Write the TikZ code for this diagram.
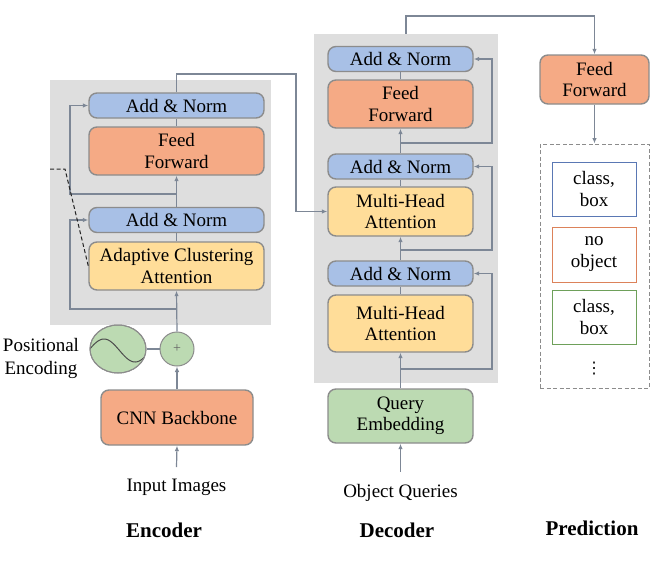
\documentclass[tikz,border=0pt]{standalone}
\usepackage{fontspec}
\setmainfont{Liberation Serif}
\newfontfamily\symfont{DejaVu Sans}
\usepackage{tikz}
\usetikzlibrary{arrows.meta,shapes.geometric}

\definecolor{bggray}{RGB}{222,222,222}
\definecolor{edgegray}{RGB}{140,140,140}
\definecolor{linegray}{RGB}{125,135,150}
\definecolor{normblue}{RGB}{168,192,230}
\definecolor{ffsalmon}{RGB}{245,170,133}
\definecolor{attyellow}{RGB}{255,221,153}
\definecolor{embgreen}{RGB}{188,218,178}
\definecolor{outblue}{RGB}{90,120,180}
\definecolor{outorange}{RGB}{220,130,90}
\definecolor{outgreen}{RGB}{110,160,90}

\newcommand{\boxfont}{\fontsize{19}{21.5}\selectfont}

\tikzset{
  blk/.style={draw=edgegray, line width=1.4pt, rounded corners=8pt, inner sep=0pt,
    align=center, font=\boxfont},
  norm/.style={blk, fill=normblue, minimum height=25pt},
  ffn/.style={blk, fill=ffsalmon, minimum height=48pt},
  att/.style={blk, fill=attyellow},
  emb/.style={blk, fill=embgreen},
  outbox/.style={draw=#1, line width=1pt, minimum width=84pt, minimum height=54pt,
    inner sep=0pt, align=center, font=\fontsize{19}{22}\selectfont},
  lbl/.style={font=\boxfont, inner sep=12pt, align=center},
  title/.style={font=\fontsize{21}{24}\selectfont\bfseries},
  ln/.style={draw=linegray, line width=1.2pt},
  arr/.style={ln, -{Latex[length=5.5pt,width=4.5pt]}},
}

\begin{document}
\begin{tikzpicture}[x=1pt,y=-1pt]
	\useasboundingbox (0,0) rectangle (667,568);

	% Gray backgrounds
	\node[fill=bggray, minimum width=221pt, minimum height=245pt, inner sep=0pt] (ebg) at (160.5,202.5) {};
	\node[fill=bggray, minimum width=184pt, minimum height=349pt, inner sep=0pt] (dbg) at (406,208.5) {};

	% Encoder
	\node[norm, minimum width=175pt] (ean2) at (176.5,105.5) {Add \& Norm};
	\node[ffn, minimum width=175pt] (eff) at (176.5,151) {Feed\\Forward};
	\node[norm, minimum width=175pt] (ean1) at (176.5,220) {Add \& Norm};
	\node[att, minimum width=175pt, minimum height=48pt] (aca) at (176.5,266) {Adaptive Clustering\\Attention};
	\node[blk, fill=ffsalmon, minimum width=152pt, minimum height=55pt] (cnn) at (177,417.5) {CNN Backbone};
	\node[lbl] (inimg) at (176.5,487.5) {Input Images};
	\node[title] (enc) at (164,530) {Encoder};

	% Positional encoding
	\node[draw=edgegray, fill=embgreen, line width=1pt, ellipse, minimum width=56pt,
	  minimum height=48pt, inner sep=0pt] (pe) at (118,349) {};
	\begin{scope}
		\clip (118,349) ellipse [x radius=28pt, y radius=24pt];
		\draw[color=black!70, line width=1pt, domain=88:150, samples=60]
		  plot (\x,{350.5-11.5*sin((\x-88.5)*5.8)});
	\end{scope}
	\draw[draw=edgegray, line width=1pt] (118,349) ellipse [x radius=28pt, y radius=24pt];
	\node[draw=edgegray, fill=embgreen, line width=1pt, circle, minimum size=34pt,
	  inner sep=0pt, text=black!60, font=\fontsize{14}{14}\selectfont] (plus) at (177,349) {+};
	\node[lbl, inner sep=0pt, font=\fontsize{19}{23}\selectfont] (pelbl) at (41,358.5) {Positional\\Encoding};

	% Encoder connectors
	\draw[arr] (inimg.north) -- (cnn.south);
	\draw[arr] (cnn.north) -- (plus.south);
	\draw[ln] (pe.east) -- (plus.west);
	\draw[arr] (plus.north) -- (aca.south);
	\coordinate (eb1) at (176.5,309);
	\draw[arr] (eb1) -- (70,309) |- (ean1.west);
	\draw[ln] (aca) -- (ean1);
	\draw[arr] (ean1) -- (eff);
	\coordinate (eb2) at (176.5,194);
	\draw[arr] (eb2) -- (70,194) |- (ean2.west);
	\draw[ln] (eff) -- (ean2);
	\coordinate (dstart) at (50,169);
	\draw[black!85, line width=1pt, dash pattern=on 4pt off 2.5pt] (dstart) -- (65,169) -- (aca.west);

	% Decoder
	\node[norm, minimum width=145pt] (dan3) at (400.5,59) {Add \& Norm};
	\node[ffn, minimum width=145pt] (dff) at (400.5,104) {Feed\\Forward};
	\node[norm, minimum width=145pt] (dan2) at (400.5,166.5) {Add \& Norm};
	\node[att, minimum width=145pt, minimum height=49pt] (dma2) at (400.5,211.5) {Multi-Head\\Attention};
	\node[norm, minimum width=145pt] (dan1) at (400.5,273.5) {Add \& Norm};
	\node[att, minimum width=145pt, minimum height=57pt] (dma1) at (400.5,323.5) {Multi-Head\\Attention};
	\node[emb, minimum width=145pt, minimum height=54pt] (qe) at (400.5,416) {Query\\Embedding};
	\node[lbl] (objq) at (400.5,492.5) {Object Queries};
	\node[title] (dec) at (397,530) {Decoder};

	% Decoder connectors
	\draw[arr] (objq.north) -- (qe.south);
	\draw[arr] (qe.north) -- (dma1.south);
	\coordinate (db1) at (400.5,369);
	\draw[arr] (db1) -- (492,369) |- (dan1.east);
	\draw[ln] (dma1) -- (dan1);
	\draw[arr] (dan1) -- (dma2);
	\coordinate (db2) at (400.5,250);
	\draw[arr] (db2) -- (492,250) |- (dan2.east);
	\draw[ln] (dma2) -- (dan2);
	\draw[arr] (dan2) -- (dff);
	\coordinate (db3) at (400.5,143);
	\draw[arr] (db3) -- (492,143) |- (dan3.east);
	\draw[ln] (dff) -- (dan3);
	\draw[arr] (ean2.north) -- (176.5,74) -| (296,211.5) -- (dma2.west);

	% Prediction
	\node[blk, fill=ffsalmon, minimum width=109pt, minimum height=49pt] (pff) at (594.5,79.5) {Feed\\Forward};
	\node[draw=edgegray, line width=1pt, dash pattern=on 4pt off 2.5pt, minimum width=109pt, minimum height=244pt, inner sep=0pt] (pbox) at (594.5,266) {};
	\node[outbox=outblue] (pc1) at (594,189) {class,\\box};
	\node[outbox=outorange, minimum height=55pt] (pno) at (594,254.5) {no\\object};
	\node[outbox=outgreen] (pc2) at (594,317) {class,\\box};
	\node[font=\symfont\fontsize{16}{16}\selectfont] (pdots) at (594,369) {⋮};
	\node[title] (pred) at (592,528) {Prediction};

	\draw[arr] (dbg.north) -- (406,16) -| (pff.north);
	\draw[arr] (pff.south) -- (pbox.north);

\end{tikzpicture}
\end{document}
